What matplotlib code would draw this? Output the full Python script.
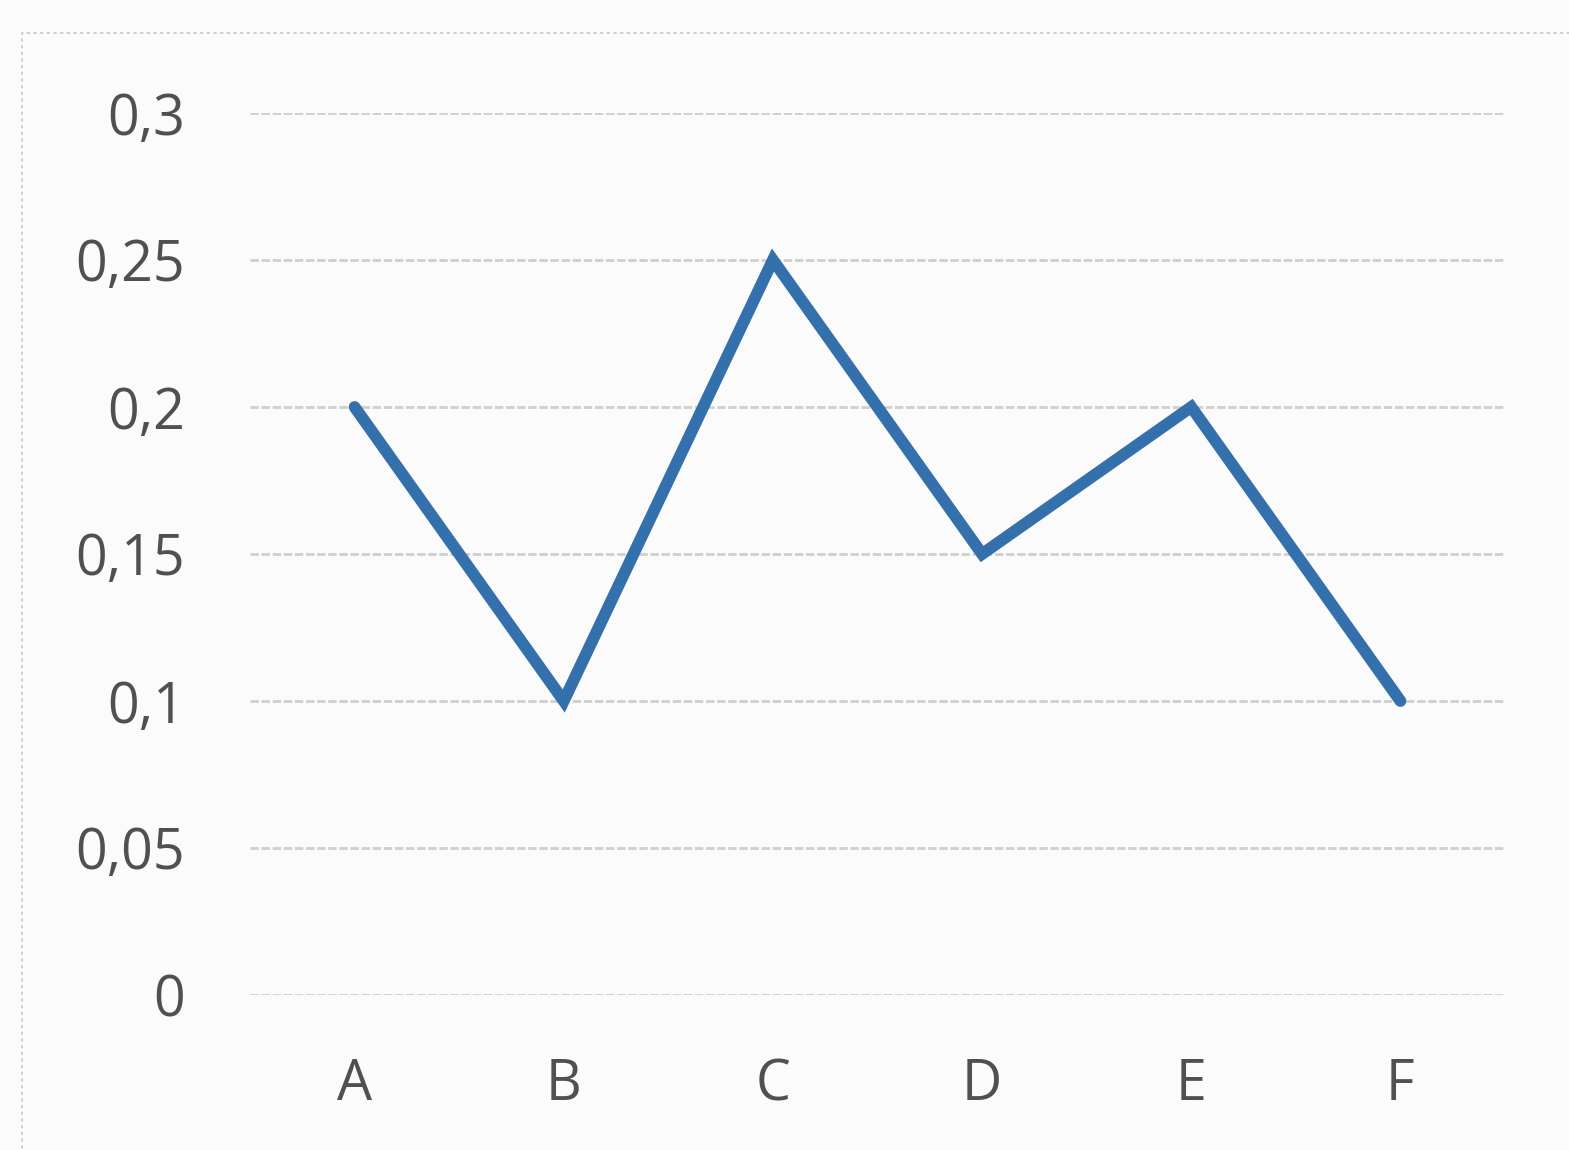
import matplotlib
matplotlib.use("Agg")
import matplotlib.pyplot as plt
from matplotlib.patches import Rectangle

categories = ["A", "B", "C", "D", "E", "F"]
values = [0.2, 0.1, 0.25, 0.15, 0.2, 0.1]
yticks = [0, 0.05, 0.1, 0.15, 0.2, 0.25, 0.3]
ytick_labels = ["0", "0,05", "0,1", "0,15", "0,2", "0,25", "0,3"]

plt.rcParams['font.family'] = ['Open Sans', 'DejaVu Sans']

fig = plt.figure(figsize=(15.69, 11.5), dpi=100, facecolor="#fbfbfb")
W, H = 1569, 1150

# chart frame (scanned excel chart border)
fig.patches.append(Rectangle((22 / W, -0.1), 1.2, 1 - 33 / H + 0.1, transform=fig.transFigure,
                             fill=False, edgecolor="#c8c8c8", linewidth=1.2, linestyle=(0, (2, 2))))

ax = fig.add_axes([250 / W, 155 / H, 1255 / W, 882 / H])
ax.set_facecolor("#fbfbfb")

x = range(len(categories))
ax.plot(x, values, color="#3470ab", linewidth=8.5, solid_joinstyle="miter",
        solid_capstyle="round", zorder=3)

ax.set_xlim(-0.5, len(categories) - 0.5)
ax.set_ylim(0, 0.3)
ax.set_yticks(yticks)
ax.set_yticklabels(ytick_labels)
ax.set_xticks(list(x))
ax.set_xticklabels(categories)

for y in yticks:
    ax.axhline(y, color="#cfcfcf", linewidth=2, linestyle=(0, (3, 1)), zorder=1)

for s in ax.spines.values():
    s.set_visible(False)
ax.tick_params(axis="both", length=0, labelsize=40, labelcolor="#505050")
ax.tick_params(axis="y", pad=47)
ax.tick_params(axis="x", pad=45)

fig.savefig("out.png", dpi=100, facecolor=fig.get_facecolor())
